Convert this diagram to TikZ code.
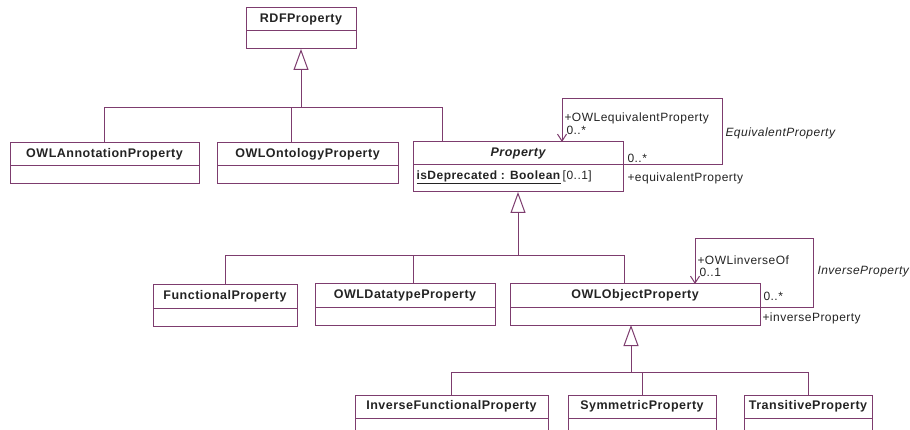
\documentclass[tikz,border=0pt]{standalone}
\usepackage{fontspec}
\setmainfont{Liberation Sans}[LetterSpace=4.0]
\usepackage{xcolor}
\usetikzlibrary{positioning,arrows.meta}
\definecolor{umlline}{RGB}{125,60,110}
\definecolor{umltext}{RGB}{35,35,35}

\begin{document}
\begin{tikzpicture}[
    x=1pt, y=-1pt,
    line width=1pt,
    classhead/.style={rectangle, draw=umlline, anchor=north, minimum height=23pt, inner sep=0pt, outer sep=0pt, font=\fontsize{12.5}{14}\selectfont\bfseries, text=umltext},
    classbody/.style={rectangle, draw=umlline, minimum height=18pt, inner sep=0pt, outer sep=0pt},
    gen/.style={draw=umlline, -{Triangle[open, length=21pt, width=15pt]}},
    link/.style={draw=umlline},
    assoc/.style={draw=umlline, -{Straight Barb[length=7pt, width=9pt]}},
    lbl/.style={anchor=west, inner sep=0pt, font=\fontsize{12}{14}\selectfont, text=umltext},
]
\useasboundingbox (0,0) rectangle (910,430);
\clip (0,0) rectangle (910,430);

% Top class
\node[classhead, minimum width=110pt] (rdf) at (301,8) {RDFProperty};
\node[classbody, minimum width=110pt, below=0pt of rdf] (rdf-b) {};

% First level
\node[classhead, minimum width=189pt] (ann) at (104.5,143) {OWLAnnotationProperty};
\node[classbody, minimum width=189pt, below=0pt of ann] (ann-b) {};
\node[classhead, minimum width=181pt] (ont) at (307.5,143) {OWLOntologyProperty};
\node[classbody, minimum width=181pt, below=0pt of ont] (ont-b) {};
\node[classhead, minimum width=210pt, font=\fontsize{12.5}{14}\selectfont\bfseries\itshape] (prop) at (518,142) {Property};
\node[classbody, minimum width=210pt, minimum height=27pt, below=0pt of prop] (prop-b) {};
\node[lbl] (prop-attr) at (416,177) {\underline{\textbf{isDeprecated : Boolean}}\,[0..1]};

% Second level
\node[classhead, minimum width=144pt] (func) at (225,285) {FunctionalProperty};
\node[classbody, minimum width=144pt, below=0pt of func] (func-b) {};
\node[classhead, minimum width=180pt] (data) at (405,284) {OWLDatatypeProperty};
\node[classbody, minimum width=180pt, below=0pt of data] (data-b) {};
\node[classhead, minimum width=250pt] (obj) at (635,284) {OWLObjectProperty};
\node[classbody, minimum width=250pt, below=0pt of obj] (obj-b) {};

% Third level
\node[classhead, minimum width=193pt] (inv) at (451.5,395) {InverseFunctionalProperty};
\node[classbody, minimum width=193pt, below=0pt of inv] (inv-b) {};
\node[classhead, minimum width=148pt] (sym) at (642,395) {SymmetricProperty};
\node[classbody, minimum width=148pt, below=0pt of sym] (sym-b) {};
\node[classhead, minimum width=128pt] (trans) at (808,395) {TransitiveProperty};
\node[classbody, minimum width=128pt, below=0pt of trans] (trans-b) {};

% Generalizations
\coordinate (j1) at (301,108);
\draw[gen] (j1) -- (rdf-b.south);
\draw[link] (ann.north) |- (j1);
\draw[link] ([xshift=-16pt]ont.north) |- (j1);
\draw[link] ([xshift=-76pt]prop.north) |- (j1);

\coordinate (j2) at (518,256);
\draw[gen] (j2) -- (prop-b.south);
\draw[link] (func.north) |- (j2);
\draw[link] ([xshift=8pt]data.north) |- (j2);
\draw[link] ([xshift=-11pt]obj.north) |- (j2);

\coordinate (j3) at (631,372);
\draw[gen] (j3) -- (j3 |- obj-b.south);
\draw[link] (inv.north) |- (j3);
\draw[link] (sym.north) |- (j3);
\draw[link] (trans.north) |- (j3);

% Self associations
\coordinate (eqcorner) at (722,99);
\draw[assoc] (prop.south east) -| (eqcorner) -| ([xshift=44pt]prop.north);
\node[lbl] (eq-role) at (564,118) {+OWLequivalentProperty};
\node[lbl] (eq-mult) at (566,130) {0..*};
\node[lbl, font=\fontsize{12}{14}\selectfont\itshape] (eq-name) at (725,133) {EquivalentProperty};
\node[lbl] (eq-mult2) at (627,158) {0..*};
\node[lbl] (eq-role2) at (627,178) {+equivalentProperty};

\coordinate (invcorner) at (813,239);
\draw[assoc] (obj.south east) -| (invcorner) -| ([xshift=60pt]obj.north);
\node[lbl] (inv-role) at (697,260) {+OWLinverseOf};
\node[lbl] (inv-mult) at (699,272) {0..1};
\node[lbl, font=\fontsize{12}{14}\selectfont\itshape] (inv-name) at (817,272) {InverseProperty};
\node[lbl] (inv-mult2) at (763,296) {0..*};
\node[lbl] (inv-role2) at (762,318) {+inverseProperty};

\end{tikzpicture}
\end{document}
